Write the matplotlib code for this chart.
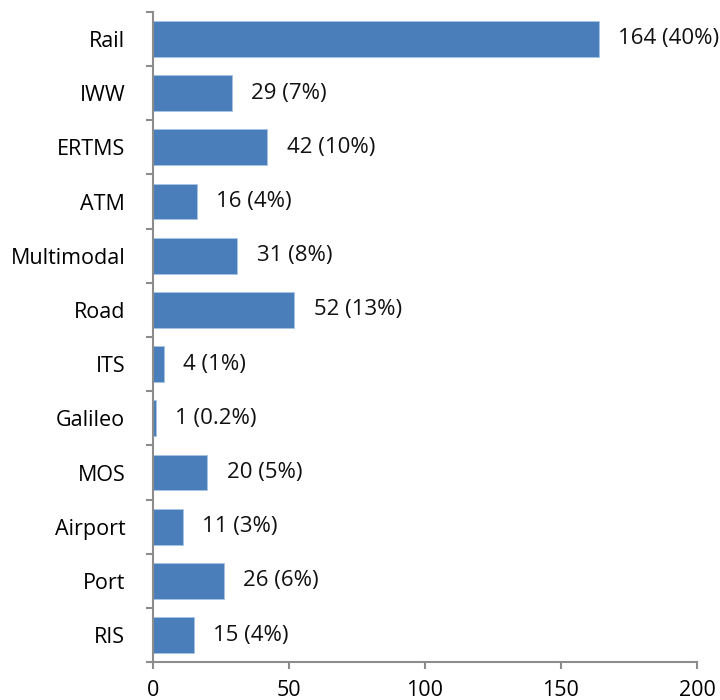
import numpy as np
import matplotlib.pyplot as plt

categories = ["Rail", "IWW", "ERTMS", "ATM", "Multimodal", "Road", "ITS",
              "Galileo", "MOS", "Airport", "Port", "RIS"]
values = [164, 29, 42, 16, 31, 52, 4, 1, 20, 11, 26, 15]
shares = ["40%", "7%", "10%", "4%", "8%", "13%", "1%", "0.2%", "5%", "3%", "6%", "4%"]

plt.rcParams["font.family"] = ["Open Sans", "DejaVu Sans"]

fig = plt.figure(figsize=(7.2, 7.0), dpi=100)
ax = fig.add_axes([0.2125, 0.054, 0.7555, 0.929])

y = np.arange(len(categories))
bar_color = "#4a7ebb"
ax.barh(y, values, height=0.66, color=bar_color, edgecolor="#a8c4e6", linewidth=0.6)

for yi, v, s in zip(y, values, shares):
    ax.annotate(f"{v} ({s})", xy=(v, yi), xytext=(14, 0), textcoords="offset points",
                va="center", ha="left", fontsize=16, color="#111111")

ax.set_xlim(0, 200)
ax.set_ylim(len(categories) - 0.5, -0.5)
ax.set_xticks([0, 50, 100, 150, 200])
ax.set_yticks(y)
ax.set_yticklabels(categories)
ax.set_yticks(np.arange(-0.5, len(categories)), minor=True)

spine_col = "#8c8c8c"
for side in ["top", "right"]:
    ax.spines[side].set_visible(False)
for side in ["left", "bottom"]:
    ax.spines[side].set_color(spine_col)
    ax.spines[side].set_linewidth(1.5)

ax.tick_params(axis="y", which="major", length=0, pad=20, labelsize=15.5)
ax.tick_params(axis="y", which="minor", length=5, width=1.5, color=spine_col, direction="out")
ax.tick_params(axis="x", length=5, width=1.5, color=spine_col, direction="out",
               pad=8, labelsize=15.5)

fig.savefig("out.png", dpi=100)
